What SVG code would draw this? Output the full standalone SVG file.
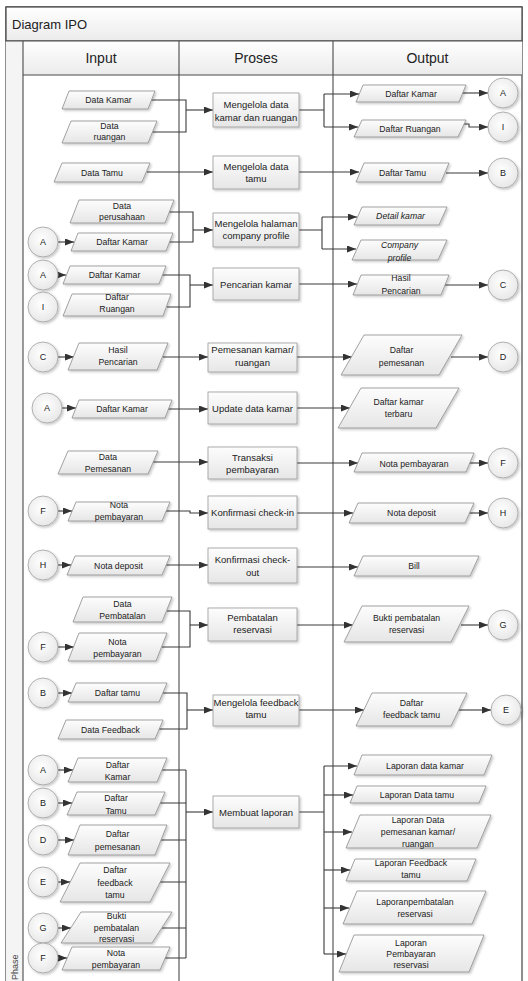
<svg xmlns="http://www.w3.org/2000/svg" width="528" height="981" viewBox="0 0 528 981">
<defs>
<linearGradient id="gs" x1="0" y1="0" x2="0" y2="1"><stop offset="0" stop-color="#fdfdfd"/><stop offset="1" stop-color="#e6e6e6"/></linearGradient>
<linearGradient id="gh" x1="0" y1="0" x2="0" y2="1"><stop offset="0" stop-color="#ffffff"/><stop offset="1" stop-color="#ebebeb"/></linearGradient>
<radialGradient id="gc" cx="0.45" cy="0.4" r="0.7"><stop offset="0" stop-color="#ffffff"/><stop offset="1" stop-color="#e4e4e4"/></radialGradient>
<filter id="sh" x="-15%" y="-15%" width="135%" height="150%"><feDropShadow dx="1.5" dy="1.5" stdDeviation="1" flood-color="#000" flood-opacity="0.22"/></filter>
<marker id="ar" viewBox="0 0 9 7" refX="9" refY="3.5" markerWidth="9" markerHeight="7" markerUnits="userSpaceOnUse" orient="auto"><path d="M0,0 L9,3.5 L0,7 z" fill="#333"/></marker>
<style>
.d{fill:url(#gs);stroke:#8c8c8c;stroke-width:0.8;filter:url(#sh)}
.p{fill:url(#gs);stroke:#999;stroke-width:0.8;filter:url(#sh)}
.c{fill:url(#gc);stroke:#a0a0a0;stroke-width:0.8;filter:url(#sh)}
text{font-family:"Liberation Sans",Arial,sans-serif;fill:#222;text-anchor:middle}
.t{font-size:8.7px}
.i{font-size:8.7px;font-style:italic}
.tp{font-size:9.5px}
.tc{font-size:9px}
.ln{fill:none;stroke:#3a3a3a;stroke-width:1.1}
.a{fill:none;stroke:#3a3a3a;stroke-width:1.1;marker-end:url(#ar)}
.lane{fill:none;stroke:#4a4a4a;stroke-width:1.1}
</style>
</defs>
<rect x="0" y="0" width="528" height="981" fill="#ffffff"/>
<g id="frame">
<rect x="6" y="7" width="516" height="990" fill="#ffffff" stroke="#444" stroke-width="1.2"/>
<rect x="6" y="7" width="516" height="34" fill="url(#gh)" stroke="#444" stroke-width="1.2"/>
<rect x="6" y="41" width="17" height="950" fill="#f4f4f4"/>
<rect x="23" y="41" width="499" height="34" fill="url(#gh)"/>
<path class="lane" d="M6,41 H522 M23,75 H522 M23,41 V981 M179,41 V981 M333,41 V981"/>
<text x="12" y="29" style="font-size:13px;text-anchor:start">Diagram IPO</text>
<text x="101" y="63" style="font-size:14px">Input</text>
<text x="256" y="63" style="font-size:14px">Proses</text>
<text x="427.5" y="63" style="font-size:14px">Output</text>
<text transform="translate(18,980) rotate(-90)" style="font-size:9px;text-anchor:start;fill:#444">Phase</text>
</g>
<g id="connectors">
<path class="ln" d="M151,100 H186 V132 H152"/>
<path class="a" d="M186,110 H213"/>
<path class="ln" d="M299,110 H324 M324,94 V127"/>
<path class="a" d="M324,94 H359"/>
<path class="a" d="M324,127 H358"/>
<path class="a" d="M462,93 H488"/>
<path class="a" d="M462,124 H469 V127 H488"/>
<path class="a" d="M147,172 H213"/>
<path class="a" d="M299,172 H359"/>
<path class="a" d="M446,173 H488"/>
<path class="ln" d="M169,212 H193 V242 H169"/>
<path class="a" d="M193,230 H213"/>
<path class="a" d="M58,242 H74"/>
<path class="ln" d="M299,230 H322 M322,217 V249"/>
<path class="a" d="M322,217 H357"/>
<path class="a" d="M322,249 H356"/>
<path class="a" d="M58,275 H66"/>
<path class="ln" d="M162,275 H190 V307 H167"/>
<path class="a" d="M190,285 H213"/>
<path class="a" d="M299,284 H357"/>
<path class="a" d="M445,285 H488"/>
<path class="a" d="M58,357 H74"/>
<path class="a" d="M163,357 H208"/>
<path class="a" d="M297,357 H352"/>
<path class="a" d="M451,357 H488"/>
<path class="a" d="M62,408 H76"/>
<path class="a" d="M168,409 H208"/>
<path class="a" d="M297,408 H350"/>
<path class="a" d="M153,462 H208"/>
<path class="a" d="M297,463 H358"/>
<path class="a" d="M469,463 H488"/>
<path class="a" d="M58,511 H72"/>
<path class="a" d="M166,511 H190 V513 H208"/>
<path class="a" d="M297,513 H353"/>
<path class="a" d="M469,513 H488"/>
<path class="a" d="M58,565 H71"/>
<path class="a" d="M166,565 H208"/>
<path class="a" d="M297,567 H358"/>
<path class="ln" d="M167,611 H190 V647 H162"/>
<path class="a" d="M190,625 H208"/>
<path class="a" d="M58,647 H74"/>
<path class="a" d="M297,625 H353"/>
<path class="a" d="M461,625 H488"/>
<path class="a" d="M58,693 H72"/>
<path class="ln" d="M163,693 H187 V729 H159"/>
<path class="a" d="M187,710 H213"/>
<path class="a" d="M299,710 H364"/>
<path class="a" d="M459,710 H491"/>
<path class="a" d="M58,770 H73"/>
<path class="a" d="M58,803 H72"/>
<path class="a" d="M58,840 H74"/>
<path class="a" d="M58,882 H70"/>
<path class="a" d="M58,928 H71"/>
<path class="a" d="M58,958 H67"/>
<path class="ln" d="M162,770 H186 M160,803 H186 M161,840 H186 M160,882 H186 M162,928 H186 M165,958 H186 M186,770 V958"/>
<path class="a" d="M186,812 H213"/>
<path class="ln" d="M299,812 H324 M324,766 V954"/>
<path class="a" d="M324,766 H357"/>
<path class="a" d="M324,795 H353"/>
<path class="a" d="M324,832 H352"/>
<path class="a" d="M324,870 H350"/>
<path class="a" d="M324,908 H349"/>
<path class="a" d="M324,954 H346"/>
</g>
<g id="p1"><rect class="p" x="213" y="93" width="86" height="34"/><text class="tp" x="256" y="107.5">Mengelola data</text><text class="tp" x="256" y="120.5">kamar dan ruangan</text></g>
<g id="p2"><rect class="p" x="213" y="156" width="86" height="33"/><text class="tp" x="256" y="169.5">Mengelola data</text><text class="tp" x="256" y="182">tamu</text></g>
<g id="p3"><rect class="p" x="213" y="213" width="86" height="34"/><text class="tp" x="256" y="227">Mengelola halaman</text><text class="tp" x="256" y="238.5">company profile</text></g>
<g id="p4"><rect class="p" x="213" y="268" width="86" height="32"/><text class="tp" x="256" y="288">Pencarian kamar</text></g>
<g id="p5"><rect class="p" x="208" y="343" width="89" height="29"/><text class="tp" x="252.5" y="352.5">Pemesanan kamar/</text><text class="tp" x="252.5" y="365.5">ruangan</text></g>
<g id="p6"><rect class="p" x="208" y="392" width="89" height="32"/><text class="tp" x="252.5" y="411.5">Update data kamar</text></g>
<g id="p7"><rect class="p" x="208" y="447" width="89" height="32"/><text class="tp" x="252.5" y="461">Transaksi</text><text class="tp" x="252.5" y="473">pembayaran</text></g>
<g id="p8"><rect class="p" x="208" y="496" width="89" height="33"/><text class="tp" x="252.5" y="516">Konfirmasi check-in</text></g>
<g id="p9"><rect class="p" x="208" y="548" width="89" height="35"/><text class="tp" x="252.5" y="563">Konfirmasi check-</text><text class="tp" x="252.5" y="575.5">out</text></g>
<g id="p10"><rect class="p" x="208" y="608" width="89" height="33"/><text class="tp" x="252.5" y="621">Pembatalan</text><text class="tp" x="252.5" y="633">reservasi</text></g>
<g id="p11"><rect class="p" x="213" y="695" width="86" height="31"/><text class="tp" x="256" y="706">Mengelola feedback</text><text class="tp" x="256" y="718">tamu</text></g>
<g id="p12"><rect class="p" x="213" y="796" width="86" height="32"/><text class="tp" x="256" y="815.5">Membuat laporan</text></g>
<g id="i1"><polygon class="d" points="69,91 155,91 148,109 62,109"/><text class="t" x="108.5" y="103">Data Kamar</text></g>
<g id="i2"><polygon class="d" points="71,121 157,121 148,143 62,143"/><text class="t" x="109.5" y="128.5">Data</text><text class="t" x="109.5" y="140">ruangan</text></g>
<g id="i3"><polygon class="d" points="62,163 150,163 142,182 54,182"/><text class="t" x="102" y="175.5">Data Tamu</text></g>
<g id="i4"><polygon class="d" points="79,200 174,200 165,223 70,223"/><text class="t" x="122" y="208.5">Data</text><text class="t" x="122" y="220">perusahaan</text></g>
<g id="i5"><polygon class="d" points="78,233 173,233 166,251 71,251"/><text class="t" x="122" y="245">Daftar Kamar</text></g>
<g id="i6"><polygon class="d" points="70,266 166,266 159,284 63,284"/><text class="t" x="114.5" y="278">Daftar Kamar</text></g>
<g id="i7"><polygon class="d" points="72,294 171,294 163,316 63,316"/><text class="t" x="117" y="300">Daftar</text><text class="t" x="117" y="311.5">Ruangan</text></g>
<g id="i8"><polygon class="d" points="79,343 168,343 157,370 68,370"/><text class="t" x="118" y="352.5">Hasil</text><text class="t" x="118" y="365">Pencarian</text></g>
<g id="i9"><polygon class="d" points="79,400 172,400 165,418 72,418"/><text class="t" x="122" y="412">Daftar Kamar</text></g>
<g id="i10"><polygon class="d" points="68,451 158,451 148,474 58,474"/><text class="t" x="108" y="460">Data</text><text class="t" x="108" y="472">Pemesanan</text></g>
<g id="i11"><polygon class="d" points="76,502 170,502 162,521 68,521"/><text class="t" x="119" y="508">Nota</text><text class="t" x="119" y="519.5">pembayaran</text></g>
<g id="i12"><polygon class="d" points="75,556 170,556 162,575 67,575"/><text class="t" x="118.5" y="568.5">Nota deposit</text></g>
<g id="i13"><polygon class="d" points="83,597 172,597 162,622 73,622"/><text class="t" x="122.5" y="607">Data</text><text class="t" x="122.5" y="619">Pembatalan</text></g>
<g id="i14"><polygon class="d" points="79,633 167,633 156,661 68,661"/><text class="t" x="117.5" y="645">Nota</text><text class="t" x="117.5" y="656.5">pembayaran</text></g>
<g id="i15"><polygon class="d" points="76,683 167,683 159,702 68,702"/><text class="t" x="117.5" y="695.5">Daftar tamu</text></g>
<g id="i16"><polygon class="d" points="66,720 163,720 155,739 58,739"/><text class="t" x="110.5" y="732.5">Data Feedback</text></g>
<g id="i17"><polygon class="d" points="78,758 167,758 157,782 68,782"/><text class="t" x="117.5" y="767.5">Daftar</text><text class="t" x="117.5" y="779.5">Kamar</text></g>
<g id="i18"><polygon class="d" points="77,792 165,792 155,815 67,815"/><text class="t" x="116" y="801">Daftar</text><text class="t" x="116" y="813.5">Tamu</text></g>
<g id="i19"><polygon class="d" points="80,825 167,825 155,855 68,855"/><text class="t" x="117.5" y="837">Daftar</text><text class="t" x="117.5" y="849.5">pemesanan</text></g>
<g id="i20"><polygon class="d" points="80,863 170,863 150,902 60,902"/><text class="t" x="115" y="873">Daftar</text><text class="t" x="115" y="886">feedback</text><text class="t" x="115" y="898">tamu</text></g>
<g id="i21"><polygon class="d" points="81,912 172,912 152,943 61,943"/><text class="t" x="116.5" y="919">Bukti</text><text class="t" x="116.5" y="930.5">pembatalan</text><text class="t" x="116.5" y="941.5">reservasi</text></g>
<g id="i22"><polygon class="d" points="72,947 170,947 160,970 62,970"/><text class="t" x="116" y="956">Nota</text><text class="t" x="116" y="967.5">pembayaran</text></g>
<g id="o1"><polygon class="d" points="363,85 466,85 459,102 356,102"/><text class="t" x="411" y="96.5">Daftar Kamar</text></g>
<g id="o2"><polygon class="d" points="362,120 466,120 458,137 354,137"/><text class="t" x="410" y="131.5">Daftar Ruangan</text></g>
<g id="o3"><polygon class="d" points="364,163 449,163 441,182 356,182"/><text class="t" x="402.5" y="175.5">Daftar Tamu</text></g>
<g id="o4"><polygon class="d" points="362,207 447,207 439,225 354,225"/><text class="i" x="400.5" y="219">Detail kamar</text></g>
<g id="o5"><polygon class="d" points="361,240 447,240 438,260 352,260"/><text class="i" x="399.5" y="248">Company</text><text class="i" x="399.5" y="260.5">profile</text></g>
<g id="o6"><polygon class="d" points="361,275 449,275 441,295 353,295"/><text class="t" x="401" y="281">Hasil</text><text class="t" x="401" y="294">Pencarian</text></g>
<g id="o7"><polygon class="d" points="364,335 462,335 439,375 341,375"/><text class="t" x="401.5" y="353">Daftar</text><text class="t" x="401.5" y="366">pemesanan</text></g>
<g id="o8"><polygon class="d" points="361,388 459,388 436,428 338,428"/><text class="t" x="398.5" y="405">Daftar kamar</text><text class="t" x="398.5" y="417">terbaru</text></g>
<g id="o9"><polygon class="d" points="362,453 474,453 466,472 354,472"/><text class="t" x="414" y="466.5">Nota pembayaran</text></g>
<g id="o10"><polygon class="d" points="358,503 474,503 465,523 349,523"/><text class="t" x="411.5" y="516">Nota deposit</text></g>
<g id="o11"><polygon class="d" points="363,556 479,556 470,576 354,576"/><text class="t" x="414" y="568.5">Bill</text></g>
<g id="o12"><polygon class="d" points="362,606 469,606 451,642 344,642"/><text class="t" x="406.5" y="621">Bukti pembatalan</text><text class="t" x="406.5" y="633">reservasi</text></g>
<g id="o13"><polygon class="d" points="372,693 467,693 451,726 356,726"/><text class="t" x="411.5" y="706">Daftar</text><text class="t" x="411.5" y="718">feedback tamu</text></g>
<g id="o14"><polygon class="d" points="362,755 492,755 484,775 354,775"/><text class="t" x="425" y="769">Laporan data kamar</text></g>
<g id="o15"><polygon class="d" points="357,786 486,786 479,803 350,803"/><text class="t" x="417" y="798">Laporan Data tamu</text></g>
<g id="o16"><polygon class="d" points="360,815 491,815 477,848 346,848"/><text class="t" x="418" y="823">Laporan Data</text><text class="t" x="418" y="835">pemesanan kamar/</text><text class="t" x="418" y="846.5">ruangan</text></g>
<g id="o17"><polygon class="d" points="355,859 476,859 467,881 346,881"/><text class="t" x="411" y="866">Laporan Feedback</text><text class="t" x="411" y="878">tamu</text></g>
<g id="o18"><polygon class="d" points="357,891 486,891 472,924 343,924"/><text class="t" x="415" y="905">Laporanpembatalan</text><text class="t" x="415" y="916.5">reservasi</text></g>
<g id="o19"><polygon class="d" points="354,935 484,935 469,972 339,972"/><text class="t" x="411" y="946">Laporan</text><text class="t" x="411" y="957">Pembayaran</text><text class="t" x="411" y="968">reservasi</text></g>
<g id="cA1"><circle class="c" cx="503" cy="93" r="15"/><text class="tc" x="503" y="96">A</text></g>
<g id="cI1"><circle class="c" cx="503" cy="127" r="15"/><text class="tc" x="503" y="130">I</text></g>
<g id="cB1"><circle class="c" cx="503" cy="173" r="15"/><text class="tc" x="503" y="176">B</text></g>
<g id="cC1"><circle class="c" cx="503" cy="285" r="15"/><text class="tc" x="503" y="288">C</text></g>
<g id="cD1"><circle class="c" cx="503" cy="357" r="15"/><text class="tc" x="503" y="360">D</text></g>
<g id="cF1"><circle class="c" cx="503" cy="463" r="15"/><text class="tc" x="503" y="466">F</text></g>
<g id="cH1"><circle class="c" cx="503" cy="513" r="15"/><text class="tc" x="503" y="516">H</text></g>
<g id="cG1"><circle class="c" cx="503" cy="625" r="15"/><text class="tc" x="503" y="628">G</text></g>
<g id="cE1"><circle class="c" cx="506" cy="710" r="15"/><text class="tc" x="506" y="713">E</text></g>
<g id="cA2"><circle class="c" cx="43" cy="242" r="15"/><text class="tc" x="43" y="245">A</text></g>
<g id="cA3"><circle class="c" cx="43" cy="275" r="15"/><text class="tc" x="43" y="278">A</text></g>
<g id="cI2"><circle class="c" cx="43" cy="307" r="15"/><text class="tc" x="43" y="310">I</text></g>
<g id="cC2"><circle class="c" cx="43" cy="357" r="15"/><text class="tc" x="43" y="360">C</text></g>
<g id="cA4"><circle class="c" cx="47" cy="408" r="15"/><text class="tc" x="47" y="411">A</text></g>
<g id="cF2"><circle class="c" cx="43" cy="511" r="15"/><text class="tc" x="43" y="514">F</text></g>
<g id="cH2"><circle class="c" cx="43" cy="565" r="15"/><text class="tc" x="43" y="568">H</text></g>
<g id="cF3"><circle class="c" cx="43" cy="647" r="15"/><text class="tc" x="43" y="650">F</text></g>
<g id="cB2"><circle class="c" cx="43" cy="693" r="15"/><text class="tc" x="43" y="696">B</text></g>
<g id="cA5"><circle class="c" cx="43" cy="770" r="15"/><text class="tc" x="43" y="773">A</text></g>
<g id="cB3"><circle class="c" cx="43" cy="803" r="15"/><text class="tc" x="43" y="806">B</text></g>
<g id="cD2"><circle class="c" cx="43" cy="840" r="15"/><text class="tc" x="43" y="843">D</text></g>
<g id="cE2"><circle class="c" cx="43" cy="882" r="15"/><text class="tc" x="43" y="885">E</text></g>
<g id="cG2"><circle class="c" cx="43" cy="928" r="15"/><text class="tc" x="43" y="931">G</text></g>
<g id="cF4"><circle class="c" cx="43" cy="958" r="15"/><text class="tc" x="43" y="961">F</text></g>
</svg>
